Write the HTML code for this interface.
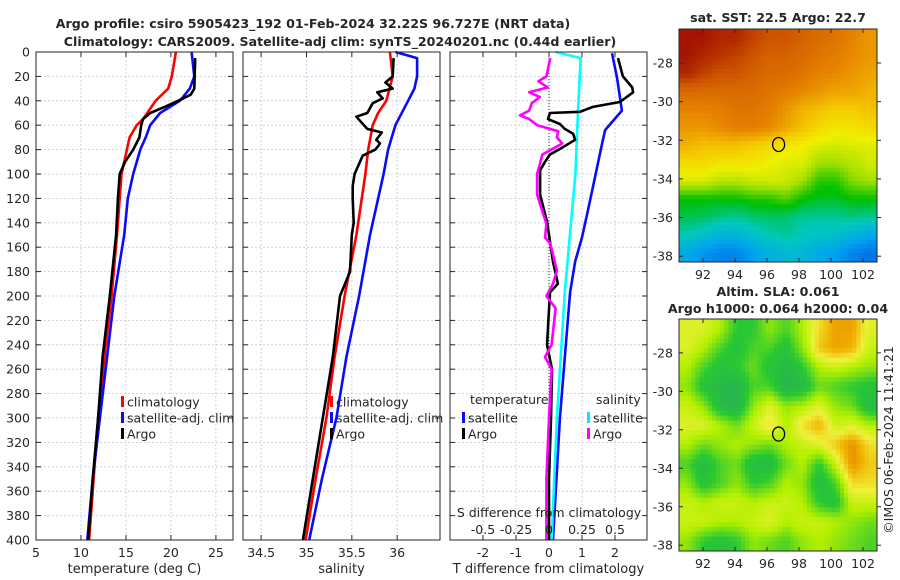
<!DOCTYPE html>
<html><head><meta charset="utf-8">
<style>
html,body{margin:0;padding:0;background:#fff;}
svg{display:block;font-family:"DejaVu Sans","Liberation Sans",sans-serif;}
text{fill:#262626;}
</style></head>
<body>
<svg id="fig" width="900" height="580" viewBox="0 0 900 580" xmlns="http://www.w3.org/2000/svg">
<text x="313" y="28" text-anchor="middle" font-size="12.6" font-weight="bold" fill="#000">Argo profile: csiro 5905423_192 01-Feb-2024 32.22S 96.727E (NRT data)</text>
<text x="340" y="46" text-anchor="middle" font-size="12.6" font-weight="bold" fill="#000">Climatology: CARS2009. Satellite-adj clim: synTS_20240201.nc (0.44d earlier)</text>
<g id="layer"></g>
</svg>
<script>
// ---------- data ----------
const depthTicks = [0,20,40,60,80,100,120,140,160,180,200,220,240,260,280,300,320,340,360,380,400];
const tempTicks = [5,10,15,20,25];
const salTicks = [34.5,35,35.5,36];
const tdiffTicks = [-2,-1,0,1,2];
const sdiffTicks = [-0.5,-0.25,0,0.25,0.5];

const tClimDepth = [0,20,30,40,55,60,70,80,100,150,200,250,300,350,400];
const tClim = [20.55,20.1,19.7,18.3,16.9,16.2,15.4,15.1,14.5,14.0,13.4,12.6,11.9,11.4,10.9];
const tSatDepth = [0,20,30,40,50,60,70,80,100,120,150,200,250,300,350,400];
const tSat = [22.3,22.6,22.1,21.0,18.8,17.7,17.2,16.6,15.8,15.2,14.8,13.7,12.9,12.1,11.3,10.7];
const tArgoDepth = [5,30,35,40,45,50,55,60,65,70,80,90,100,120,150,200,250,300,350,400];
const tArgo = [22.7,22.6,22.2,20.8,19.3,17.7,16.9,16.7,16.6,16.5,15.8,14.9,14.3,14.1,13.9,13.2,12.4,11.9,11.3,10.8];

const sClimDepth = [0,20,40,50,60,80,100,150,200,250,300,350,400];
const sClim = [35.92,35.95,35.88,35.79,35.73,35.68,35.65,35.55,35.42,35.31,35.22,35.10,34.99];
const sSatDepth = [0,5,20,30,40,60,80,100,150,200,250,300,350,400];
const sSat = [35.98,36.22,36.22,36.19,36.12,35.98,35.90,35.85,35.70,35.58,35.44,35.33,35.17,35.03];
const sArgoDepth = [5,20,25,30,33,38,42,50,53,58,63,66,72,75,80,85,90,100,110,120,140,150,180,200,250,300,350,400];
const sArgo = [35.96,35.95,35.87,35.95,35.78,35.84,35.73,35.67,35.55,35.61,35.67,35.83,35.77,35.81,35.76,35.62,35.59,35.53,35.51,35.51,35.52,35.50,35.48,35.37,35.29,35.18,35.07,34.96];

const tdArgoDepth = [5,20,29,33,41,45,49,50,55,59,63,67,72,78,84,90,97,117,139,172,190,197,240,260,300,350,400];
const tdArgo = [2.09,2.24,2.52,2.55,2.15,1.33,0.94,0.03,-0.03,0.33,0.48,0.73,0.79,0.42,0.03,-0.12,-0.27,-0.27,-0.06,0.12,0.27,0.03,-0.06,0.09,0.06,0.0,0.0];
const tdSatDepth = [1,5,21,48,64,75,103,130,152,172,197,300,400];
const tdSat = [1.91,1.94,2.06,2.21,1.70,1.61,1.39,1.18,1.0,0.79,0.64,0.33,0.12];
const sdSatDepth = [0,5,48,100,197,300,400];
const sdSat = [0.05,0.24,0.22,0.2,0.12,0.06,0.02];
const sdArgoDepth = [5,20,24,29,33,37,42,48,52,55,60,65,70,75,84,92,100,117,141,152,157,179,190,200,210,240,250,260,300,350,400];
const sdArgo = [0.01,-0.02,-0.08,-0.01,-0.15,-0.07,-0.13,-0.15,-0.22,-0.15,-0.09,0.07,0.06,0.10,-0.05,-0.07,-0.09,-0.09,-0.02,-0.03,0.01,0.06,0.03,-0.02,0.05,0.02,-0.03,0.02,0.0,-0.02,-0.02];

const lonTicks = [92,94,96,98,100,102];
const latTicks = [-28,-30,-32,-34,-36,-38];
const argoLon = 96.727, argoLat = -32.22;
const sstGrid = [
[0.95,0.95,0.92,0.92,0.88,0.85,0.85,0.82,0.8,0.78,0.75,0.72],
[0.95,0.92,0.9,0.88,0.85,0.82,0.82,0.8,0.78,0.76,0.74,0.72],
[0.92,0.88,0.85,0.85,0.82,0.8,0.8,0.78,0.75,0.74,0.72,0.7],
[0.8,0.8,0.8,0.8,0.8,0.78,0.76,0.74,0.72,0.7,0.7,0.68],
[0.75,0.75,0.76,0.78,0.78,0.76,0.72,0.68,0.66,0.64,0.64,0.66],
[0.72,0.72,0.74,0.76,0.76,0.74,0.7,0.66,0.62,0.6,0.6,0.62],
[0.68,0.66,0.66,0.66,0.64,0.62,0.6,0.58,0.56,0.55,0.56,0.56],
[0.62,0.62,0.6,0.6,0.6,0.58,0.56,0.56,0.5,0.5,0.52,0.55],
[0.55,0.55,0.52,0.52,0.54,0.55,0.54,0.5,0.42,0.42,0.48,0.5],
[0.4,0.4,0.4,0.4,0.42,0.42,0.45,0.4,0.38,0.38,0.4,0.4],
[0.36,0.35,0.33,0.32,0.34,0.35,0.34,0.32,0.32,0.32,0.33,0.32],
[0.3,0.28,0.25,0.25,0.28,0.3,0.32,0.3,0.28,0.28,0.25,0.22],
[0.22,0.18,0.15,0.15,0.2,0.24,0.26,0.26,0.22,0.2,0.15,0.12]];
const slaGrid = [
[0.6,0.6,0.5,0.3,0.3,0.45,0.35,0.5,0.7,0.85,0.85,0.6],
[0.6,0.5,0.35,0.25,0.35,0.35,0.25,0.45,0.75,0.85,0.8,0.55],
[0.5,0.35,0.25,0.3,0.4,0.25,0.2,0.3,0.5,0.55,0.5,0.45],
[0.45,0.25,0.2,0.15,0.35,0.35,0.15,0.2,0.4,0.35,0.3,0.25],
[0.55,0.45,0.2,0.15,0.45,0.6,0.45,0.5,0.6,0.45,0.4,0.2],
[0.6,0.6,0.5,0.4,0.55,0.7,0.5,0.7,0.8,0.55,0.6,0.5],
[0.5,0.4,0.45,0.5,0.45,0.4,0.5,0.55,0.6,0.75,0.9,0.7],
[0.35,0.2,0.35,0.4,0.2,0.2,0.4,0.5,0.3,0.55,0.9,0.75],
[0.45,0.25,0.35,0.45,0.3,0.35,0.5,0.45,0.2,0.35,0.7,0.7],
[0.55,0.5,0.55,0.55,0.5,0.55,0.55,0.5,0.3,0.25,0.55,0.55],
[0.55,0.55,0.5,0.5,0.55,0.6,0.5,0.55,0.55,0.5,0.45,0.4],
[0.45,0.3,0.25,0.3,0.45,0.4,0.35,0.45,0.5,0.45,0.4,0.35]];

// ---------- helpers ----------
const NS = "http://www.w3.org/2000/svg";
const layer = document.getElementById('layer');
function mk(tag, attrs, parent){ const e=document.createElementNS(NS,tag); for(const k in attrs) e.setAttribute(k,attrs[k]); (parent||layer).appendChild(e); return e; }
function txt(x,y,s,size,anchor,parent){ const t=mk('text',{x:x,y:y,'font-size':size,'text-anchor':anchor||'middle'},parent); t.textContent=s; return t; }

const TOP=52, BOT=540;
const yD = d => TOP + d/400*(BOT-TOP);
const panels = [
 {name:'temperature-panel', x0:36, x1:233, v0:5, v1:26.9, ticks:tempTicks, label:'temperature (deg C)'},
 {name:'salinity-panel', x0:243, x1:440, v0:34.3, v1:36.472, ticks:salTicks, label:'salinity'},
 {name:'difference-panel', x0:450, x1:647, v0:-3.0, v1:2.97, ticks:tdiffTicks, label:'T difference from climatology'}
];
panels.forEach(p=>{ p.sx = v => p.x0 + (v-p.v0)/(p.v1-p.v0)*(p.x1-p.x0); });
const sdx = v => panels[2].sx(v*4);

function line(xs, ds, sx, color, name, g){
  const pts = xs.map((v,i)=> sx(v).toFixed(1)+','+yD(ds[i]).toFixed(1)).join(' ');
  const e = mk('polyline',{points:pts,fill:'none',stroke:color,'stroke-width':2.6,'stroke-linejoin':'round'},g);
  
  
}

panels.forEach((p,pi)=>{
  const g = mk('g',{});
  
  
  depthTicks.forEach(d=>{ if(d>0&&d<400) mk('line',{x1:p.x0,x2:p.x1,y1:yD(d),y2:yD(d),stroke:'#c4c8dc','stroke-width':0.8,'stroke-dasharray':'2,2'},g); });
  p.ticks.forEach(v=>{ const x=p.sx(v); if(x>p.x0+1&&x<p.x1-1) mk('line',{x1:x,x2:x,y1:TOP,y2:BOT,stroke:'#c4c8dc','stroke-width':0.8,'stroke-dasharray':'2,2'},g); });
  depthTicks.forEach(d=>{ mk('line',{x1:p.x0,x2:p.x0+5,y1:yD(d),y2:yD(d),stroke:'#262626'},g); mk('line',{x1:p.x1,x2:p.x1-5,y1:yD(d),y2:yD(d),stroke:'#262626'},g); });
  p.ticks.forEach(v=>{ const x=p.sx(v); mk('line',{x1:x,x2:x,y1:BOT,y2:BOT-5,stroke:'#262626'},g); mk('line',{x1:x,x2:x,y1:TOP,y2:TOP+5,stroke:'#262626'},g);
    const t=txt(x,557,String(v),12.5,'middle',g);   });
  const xl = txt((p.x0+p.x1)/2,573,p.label,13,'middle',g);
  
  
  if(pi===0){ depthTicks.forEach(d=>{ const t=txt(30,yD(d)+4.5,String(d),12.5,'end',g);   }); }
  p.g=g;
});

mk('line',{x1:panels[2].sx(0),x2:panels[2].sx(0),y1:TOP,y2:BOT,stroke:'#333','stroke-width':1,'stroke-dasharray':'1,2'},panels[2].g);

const P1=panels[0], P2=panels[1], P3=panels[2];
line(tClim,tClimDepth,P1.sx,'#ff0000','temp-climatology-line',P1.g);
line(tSat,tSatDepth,P1.sx,'#0a0aff','temp-satellite-line',P1.g);
line(tArgo,tArgoDepth,P1.sx,'#000','temp-argo-line',P1.g);
line(sClim,sClimDepth,P2.sx,'#ff0000','sal-climatology-line',P2.g);
line(sSat,sSatDepth,P2.sx,'#0a0aff','sal-satellite-line',P2.g);
line(sArgo,sArgoDepth,P2.sx,'#000','sal-argo-line',P2.g);
line(tdSat,tdSatDepth,P3.sx,'#0a0aff','tdiff-satellite-line',P3.g);
line(sdSat,sdSatDepth,sdx,'#00ffff','sdiff-satellite-line',P3.g);
line(tdArgo,tdArgoDepth,P3.sx,'#000','tdiff-argo-line',P3.g);
line(sdArgo,sdArgoDepth,sdx,'#ff00ff','sdiff-argo-line',P3.g);

const sdTitle = txt(549,517,'S difference from climatology',12.5,'middle',P3.g);


sdiffTicks.forEach(v=>{ const t=txt(sdx(v),534,String(v),12.5,'middle',P3.g);   });

panels.forEach(p=>{ mk('rect',{x:p.x0,y:TOP,width:p.x1-p.x0,height:BOT-TOP,fill:'none',stroke:'#262626','stroke-width':1},p.g); });

function legend(x,y,color,label,g){
  const lg = mk('g',{},g);
  
  
  mk('rect',{x:x,y:y-6,width:3,height:11,fill:color},lg);
  txt(x+6,y+4.5,label,12.5,'start',lg);
}
legend(121,402,'#ff0000','climatology',P1.g); legend(121,418,'#0a0aff','satellite-adj. clim',P1.g); legend(121,434,'#000','Argo',P1.g);
legend(330,402,'#ff0000','climatology',P2.g); legend(330,418,'#0a0aff','satellite-adj. clim',P2.g); legend(330,434,'#000','Argo',P2.g);
txt(470,404,'temperature',12.5,'start',P3.g); txt(596,404,'salinity',12.5,'start',P3.g);
legend(462,418,'#0a0aff','satellite',P3.g); legend(462,434,'#000','Argo',P3.g);
legend(587,418,'#00e8f0','satellite',P3.g); legend(587,434,'#ff00ff','Argo',P3.g);

// ---------- maps ----------
function interp(stops, v){ v=Math.max(0,Math.min(1,v)); for(let i=1;i<stops.length;i++){ if(v<=stops[i][0]){ const a=stops[i-1],b=stops[i],t=(v-a[0])/(b[0]-a[0]); return 'rgb('+[0,1,2].map(k=>Math.round(a[1][k]+(b[1][k]-a[1][k])*t)).join(',')+')'; } } return 'rgb('+stops[stops.length-1][1].join(',')+')'; }
const sstStops=[[0,[0,50,220]],[0.2,[0,160,240]],[0.3,[0,200,190]],[0.4,[0,192,0]],[0.5,[160,224,0]],[0.58,[240,240,0]],[0.65,[245,200,0]],[0.75,[230,130,0]],[0.85,[205,85,0]],[0.95,[165,20,0]],[1,[150,0,0]]];
const slaStops=[[0,[40,160,110]],[0.3,[40,200,50]],[0.5,[180,240,0]],[0.65,[240,240,60]],[0.8,[240,180,0]],[1,[225,110,0]]];

// bilinear sample of a grid at fractional cell coordinates (cell centres at i+0.5)
function sample(grid, fr, fc){
  const rows=grid.length, cols=grid[0].length;
  let r=fr-0.5, c=fc-0.5;
  r=Math.max(0,Math.min(rows-1,r)); c=Math.max(0,Math.min(cols-1,c));
  const r0=Math.floor(r), c0=Math.floor(c), r1=Math.min(rows-1,r0+1), c1=Math.min(cols-1,c0+1);
  const tr=r-r0, tc=c-c0;
  return grid[r0][c0]*(1-tr)*(1-tc)+grid[r0][c1]*(1-tr)*tc+grid[r1][c0]*tr*(1-tc)+grid[r1][c1]*tr*tc;
}

function drawMap(name, top, bot, grid, stops, t1){
  const g = mk('g',{});
  
  
  const L=679, R=877;
  const lonX = lo => 703 + (lo-92)*16;
  const latY = la => top + (bot-top)*((-26.24 - la)/(38.3-26.24));
  const SUB=4;
  const rows=grid.length*SUB, cols=grid[0].length*SUB, cw=(R-L)/cols, ch=(bot-top)/rows;
  for(let r=0;r<rows;r++) for(let c=0;c<cols;c++){
    const v = sample(grid,(r+0.5)/SUB,(c+0.5)/SUB);
    const cell = mk('rect',{x:(L+c*cw).toFixed(2),y:(top+r*ch).toFixed(2),width:(cw+0.5).toFixed(2),height:(ch+0.5).toFixed(2),fill:interp(stops,v)},g);
    
    
  }
  mk('rect',{x:L,y:top,width:R-L,height:bot-top,fill:'none',stroke:'#262626'},g);
  lonTicks.forEach(lo=>{ const x=lonX(lo); mk('line',{x1:x,x2:x,y1:bot,y2:bot-4,stroke:'#262626'},g); mk('line',{x1:x,x2:x,y1:top,y2:top+4,stroke:'#262626'},g);
    const t=txt(x,bot+17,String(lo),12.5,'middle',g);   });
  latTicks.forEach(la=>{ const y=latY(la); mk('line',{x1:L,x2:L+4,y1:y,y2:y,stroke:'#262626'},g); mk('line',{x1:R,x2:R+4,y1:y,y2:y,stroke:'#262626'},g);
    const t=txt(673,y+4.5,String(la),12.5,'end',g);   });
  const m = mk('ellipse',{cx:lonX(argoLon),cy:latY(argoLat),rx:6,ry:7,fill:'none',stroke:'#000','stroke-width':1.3},g);
  
  
  t1.forEach(s=>{ const t=txt(778,s[1],s[0],12.6,'middle',g); t.setAttribute('font-weight','bold'); t.setAttribute('fill','#000');   });
}
drawMap('sst-map',29,262,sstGrid,sstStops,[['sat. SST: 22.5 Argo: 22.7',22]]);
drawMap('sla-map',319,551,slaGrid,slaStops,[['Altim. SLA: 0.061',296],['Argo h1000: 0.064 h2000: 0.04',313]]);

const stamp = txt(0,0,'©IMOS 06-Feb-2024 11:41:21',12.5,'middle');
stamp.setAttribute('transform','translate(893,440) rotate(-90)');


</script>
</body></html>
